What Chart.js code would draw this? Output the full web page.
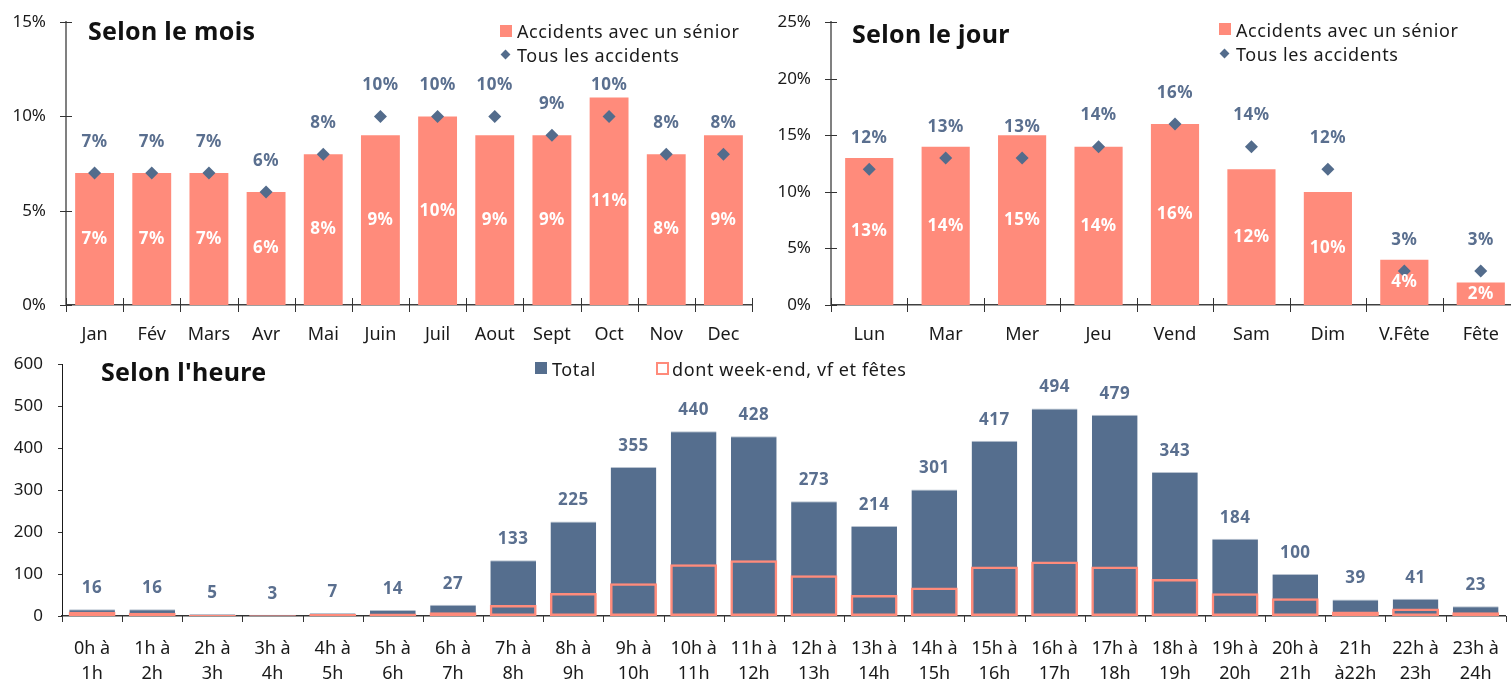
<!DOCTYPE html>
<html lang="fr">
<head>
<meta charset="utf-8">
<script src="https://cdn.jsdelivr.net/npm/chart.js@4.4.1/dist/chart.umd.min.js"></script>
<style>
  body { margin: 0; width: 1511px; height: 679px; overflow: hidden; position: relative; background: #fff; font-family: "Noto Sans", sans-serif; color: #111; }
  canvas { position: absolute; }
  .titre { position: absolute; font-weight: bold; font-size: 25px; letter-spacing: 0.3px; transform: translateY(-50%); white-space: nowrap; }
  .leg { position: absolute; font-size: 18px; letter-spacing: 0.6px; transform: translateY(-50%); white-space: nowrap; color: #1a1a1a; }
  .carre { position: absolute; width: 12px; height: 12px; }
  .losange { position: absolute; width: 7px; height: 7px; background: #536c8c; transform: rotate(45deg); }
</style>
</head>
<body>
<canvas id="cMois" width="760" height="345" style="left:0;top:0"></canvas>
<canvas id="cJour" width="770" height="345" style="left:760px;top:0"></canvas>
<canvas id="cHeure" width="1511" height="339" style="left:0;top:340px"></canvas>

<div class="titre" style="left:88px;top:30px">Selon le mois</div>
<div class="carre" style="left:500px;top:25px;background:#ff8b7b"></div>
<div class="leg" style="left:517px;top:31px">Accidents avec un sénior</div>
<div class="losange" style="left:502px;top:51px"></div>
<div class="leg" style="left:517px;top:55px">Tous les accidents</div>

<div class="titre" style="left:852px;top:33px">Selon le jour</div>
<div class="carre" style="left:1219px;top:23px;background:#ff8b7b"></div>
<div class="leg" style="left:1236px;top:30px">Accidents avec un sénior</div>
<div class="losange" style="left:1221px;top:50px"></div>
<div class="leg" style="left:1236px;top:54px">Tous les accidents</div>

<div class="titre" style="left:101px;top:371px">Selon l'heure</div>
<div class="carre" style="left:535px;top:362px;background:#556e8e"></div>
<div class="leg" style="left:552px;top:369px">Total</div>
<div class="carre" style="left:656px;top:362px;width:9px;height:9px;border:2px solid #ff8b7b"></div>
<div class="leg" style="left:672px;top:369px">dont week-end, vf et fêtes</div>

<script>
// donnees
var mois = ['Jan', 'Fév', 'Mars', 'Avr', 'Mai', 'Juin', 'Juil', 'Aout', 'Sept', 'Oct', 'Nov', 'Dec'];
var moisSenior = [7, 7, 7, 6, 8, 9, 10, 9, 9, 11, 8, 9];
var moisTous = [7, 7, 7, 6, 8, 10, 10, 10, 9, 10, 8, 8];

var jours = ['Lun', 'Mar', 'Mer', 'Jeu', 'Vend', 'Sam', 'Dim', 'V.Fête', 'Fête'];
var joursSenior = [13, 14, 15, 14, 16, 12, 10, 4, 2];
var joursTous = [12, 13, 13, 14, 16, 14, 12, 3, 3];

var heures = [['0h à', '1h'], ['1h à', '2h'], ['2h à', '3h'], ['3h à', '4h'], ['4h à', '5h'], ['5h à', '6h'],
  ['6h à', '7h'], ['7h à', '8h'], ['8h à', '9h'], ['9h à', '10h'], ['10h à', '11h'], ['11h à', '12h'],
  ['12h à', '13h'], ['13h à', '14h'], ['14h à', '15h'], ['15h à', '16h'], ['16h à', '17h'], ['17h à', '18h'],
  ['18h à', '19h'], ['19h à', '20h'], ['20h à', '21h'], ['21h', 'à22h'], ['22h à', '23h'], ['23h à', '24h']];
var heuresTotal = [16, 16, 5, 3, 7, 14, 27, 133, 225, 355, 440, 428, 273, 214, 301, 417, 494, 479, 343, 184, 100, 39, 41, 23];
var heuresWeekend = [10, 8, 3, 2, 5, 6, 9, 26, 55, 78, 123, 133, 97, 50, 68, 118, 130, 118, 88, 54, 42, 11, 18, 9];

var saumon = '#ff8b7b';
var bleu = '#556e8e';
var bleuTexte = '#5a6f8f';
var police = '"Noto Sans", sans-serif';

// etiquettes de valeurs (pas de plugin datalabels dispo)
var etiquettes = {
  id: 'etiquettes',
  afterDatasetsDraw: function (chart) {
    var ctx = chart.ctx;
    chart.data.datasets.forEach(function (ds, i) {
      if (!ds.etiq) return;
      var meta = chart.getDatasetMeta(i);
      ctx.save();
      ctx.font = 'bold 17px ' + police;
      ctx.letterSpacing = '0.5px';
      ctx.fillStyle = ds.etiq.couleur;
      ctx.textAlign = 'center';
      ctx.textBaseline = 'middle';
      meta.data.forEach(function (el, j) {
        var y = ds.etiq.centre ? (el.y + el.base) / 2 : el.y - ds.etiq.decalage;
        ctx.fillText(ds.data[j] + ds.etiq.suffixe, el.x, y);
      });
      ctx.restore();
    });
  }
};

// petits traits des axes
var traits = {
  id: 'traits',
  afterDatasetsDraw: function (chart, args, o) {
    var ctx = chart.ctx, a = chart.chartArea, x = chart.scales.x, y = chart.scales.y;
    ctx.save();
    ctx.strokeStyle = o.couleur;
    ctx.lineWidth = 1;
    ctx.beginPath();
    y.ticks.forEach(function (t) {
      var py = Math.round(y.getPixelForValue(t.value)) + 0.5;
      ctx.moveTo(a.left - o.yExt, py);
      ctx.lineTo(a.left + o.yInt, py);
    });
    var n = x.ticks.length;
    for (var i = 0; i <= n; i++) {
      var px = Math.round(a.left + i * (a.right - a.left) / n) + 0.5;
      ctx.moveTo(px, a.bottom - o.xInt);
      ctx.lineTo(px, a.bottom + o.xExt);
    }
    ctx.stroke();
    ctx.restore();
  }
};

Chart.defaults.font.family = police;
Chart.defaults.font.size = 16;
Chart.defaults.color = '#1a1a1a';
Chart.defaults.animation = false;

function graphePct(id, labels, senior, tous, max, larg, yLarg, padDroite, hautX) {
  return new Chart(document.getElementById(id), {
    type: 'bar',
    data: {
      labels: labels,
      datasets: [
        {
          label: 'Tous les accidents',
          type: 'line',
          data: tous,
          showLine: false,
          pointStyle: 'rectRot',
          pointRadius: 6.5,
          pointBackgroundColor: '#536c8c',
          pointBorderWidth: 0,
          order: 1,
          etiq: { couleur: bleuTexte, decalage: 31, suffixe: '%' }
        },
        {
          label: 'Accidents avec un sénior',
          data: senior,
          backgroundColor: saumon,
          categoryPercentage: 1,
          barPercentage: larg,
          order: 2,
          etiq: { couleur: '#ffffff', centre: true, suffixe: '%' }
        }
      ]
    },
    options: {
      responsive: false,
      layout: { padding: { top: 22, right: padDroite, bottom: 0, left: 0 } },
      plugins: {
        legend: { display: false },
        tooltip: { enabled: false },
        traits: { couleur: '#333333', yExt: 6, yInt: 6, xInt: 7, xExt: 7 }
      },
      scales: {
        x: {
          grid: { display: false },
          border: { display: true, color: '#404040', width: 1.5 },
          ticks: { padding: 11, color: '#1a1a1a', font: { size: 18 } },
          afterFit: function (s) { s.height = hautX; }
        },
        y: {
          min: 0, max: max,
          grid: { display: false },
          border: { display: true, color: '#808080', width: 2 },
          ticks: { stepSize: 5, padding: 12, color: '#1a1a1a', font: { size: 17 }, callback: function (v) { return v + '%'; } },
          afterFit: function (s) { s.width = yLarg; }
        }
      }
    },
    plugins: [etiquettes, traits]
  });
}

graphePct('cMois', mois, moisSenior, moisTous, 15, 0.68, 66, 8, 40);
graphePct('cJour', jours, joursSenior, joursTous, 25, 0.63, 71, 11, 40);

new Chart(document.getElementById('cHeure'), {
  type: 'bar',
  data: {
    labels: heures,
    datasets: [
      {
        label: 'dont week-end, vf et fêtes',
        data: heuresWeekend,
        backgroundColor: 'rgba(0,0,0,0)',
        borderColor: saumon,
        borderWidth: 2.5,
        borderSkipped: false,
        grouped: false,
        categoryPercentage: 1,
        barPercentage: 0.78,
        order: 1
      },
      {
        label: 'Total',
        data: heuresTotal,
        backgroundColor: bleu,
        borderColor: '#b9c3d0',
        borderWidth: { top: 1, left: 0, right: 0, bottom: 0 },
        grouped: false,
        categoryPercentage: 1,
        barPercentage: 0.76,
        order: 2,
        etiq: { couleur: bleuTexte, decalage: 21, suffixe: '' }
      }
    ]
  },
  options: {
    responsive: false,
    layout: { padding: { top: 24, right: 2, bottom: 0, left: 0 } },
    plugins: {
      legend: { display: false },
      tooltip: { enabled: false },
      traits: { couleur: '#333333', yExt: 4, yInt: 0, xInt: 0, xExt: 6 }
    },
    scales: {
      x: {
        grid: { display: false },
        border: { display: true, color: '#333333', width: 1.5 },
        ticks: { padding: 12, color: '#1a1a1a', font: { size: 18, lineHeight: 1.4 }, maxRotation: 0, autoSkip: false },
        afterFit: function (s) { s.height = 63; }
      },
      y: {
        min: 0, max: 600,
        grid: { display: false },
        border: { display: true, color: '#1a1a1a', width: 1 },
        ticks: { stepSize: 100, padding: 11, color: '#1a1a1a', font: { size: 17 } },
        afterFit: function (s) { s.width = 62; }
      }
    }
  },
  plugins: [etiquettes, traits]
});
</script>
</body>
</html>
